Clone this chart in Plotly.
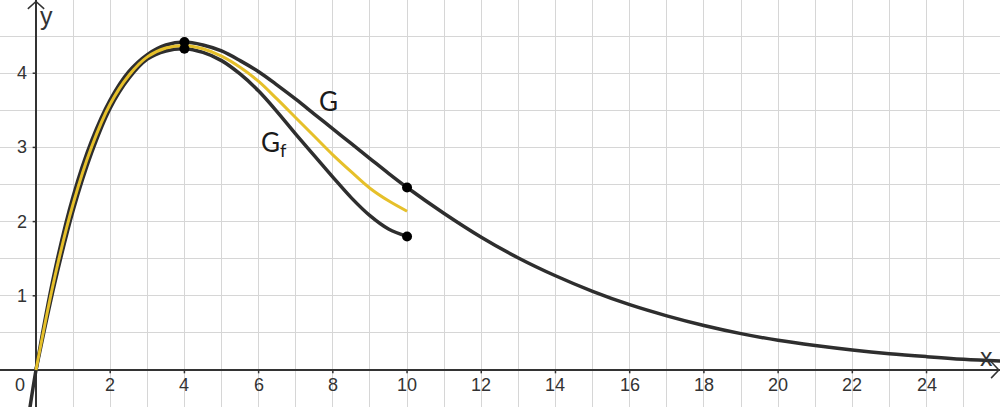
import plotly.graph_objects as go

# ---- data ----
g_x = [-0.2, 0, 0.5, 1, 1.5, 2, 2.5, 3, 3.5, 4, 4.5, 5, 5.5, 6, 6.5, 7, 7.5, 8, 8.5, 9, 9.5, 10,
       11, 12, 13, 14, 15, 16, 17, 18, 19, 20, 21, 22, 23, 24, 25, 26]
g_y = [-0.63, 0, 1.32, 2.34, 3.09, 3.64, 4.02, 4.25, 4.38, 4.42, 4.38, 4.30, 4.17, 4.02, 3.84,
       3.65, 3.45, 3.25, 3.05, 2.85, 2.65, 2.46,
       2.11, 1.79, 1.51, 1.27, 1.06, 0.88, 0.73, 0.60, 0.49, 0.40, 0.33, 0.27, 0.22,
       0.18, 0.145, 0.12]

gf_x = [0, 0.5, 1, 1.5, 2, 2.5, 3, 3.5, 4, 4.5, 5, 5.5, 6, 6.5, 7, 7.5, 8, 8.5, 9, 9.5, 10]
gf_y = [0, 1.16, 2.15, 2.93, 3.53, 3.93, 4.19, 4.30, 4.33, 4.28, 4.17, 3.99, 3.76, 3.48,
        3.18, 2.89, 2.60, 2.32, 2.08, 1.90, 1.80]

mid_x = [0, 0.5, 1, 1.5, 2, 2.5, 3, 3.5, 4, 4.5, 5, 5.5, 6, 6.5, 7, 7.5, 8, 8.5, 9, 9.5, 10]
mid_y = [0, 1.24, 2.24, 3.01, 3.585, 3.97, 4.22, 4.34, 4.375, 4.33, 4.23, 4.08, 3.89, 3.65,
         3.40, 3.15, 2.90, 2.67, 2.45, 2.28, 2.14]

pts_x = [4, 4, 10, 10]
pts_y = [4.42, 4.33, 2.46, 1.80]

x_ticks = [2, 4, 6, 8, 10, 12, 14, 16, 18, 20, 22, 24]
y_ticks = [1, 2, 3, 4]

X_RANGE = [-0.970, 25.98]
Y_RANGE = [-0.499, 4.987]

BLACK = "#2e2e2e"
YELLOW = "#e6c02a"
TXT = "#333333"
TICK_FONT = dict(family="Liberation Sans, Arial, sans-serif", size=18, color=TXT)
LABEL_FONT = dict(family="Lato, Open Sans, sans-serif", size=26, color="#1a1a1a")

fig = go.Figure()
fig.add_trace(go.Scatter(x=g_x, y=g_y, mode="lines", line=dict(color=BLACK, width=3.5, shape="spline"),
                         hoverinfo="skip"))
fig.add_trace(go.Scatter(x=gf_x, y=gf_y, mode="lines", line=dict(color=BLACK, width=3.5, shape="spline"),
                         hoverinfo="skip"))
fig.add_trace(go.Scatter(x=mid_x, y=mid_y, mode="lines", line=dict(color=YELLOW, width=3, shape="spline"),
                         hoverinfo="skip"))
fig.add_trace(go.Scatter(x=pts_x, y=pts_y, mode="markers", marker=dict(color="black", size=10),
                         hoverinfo="skip"))

annotations = []
for t in x_ticks:
    annotations.append(dict(x=t, y=0, text=str(t), showarrow=False, yshift=-15,
                            xanchor="center", yanchor="middle", font=TICK_FONT))
annotations.append(dict(x=0, y=0, text="0", showarrow=False, xshift=-16, yshift=-15,
                        xanchor="center", yanchor="middle", font=TICK_FONT))
for t in y_ticks:
    annotations.append(dict(x=0, y=t, text=str(t), showarrow=False, xshift=-14,
                            xanchor="center", yanchor="middle", font=TICK_FONT))
annotations.append(dict(x=0, y=Y_RANGE[1], text="y", showarrow=False, xshift=11, yshift=-16,
                        xanchor="center", yanchor="middle",
                        font=dict(family="Liberation Sans, Arial, sans-serif", size=25, color=TXT)))
annotations.append(dict(x=X_RANGE[1], y=0, text="x", showarrow=False, xshift=-14, yshift=13,
                        xanchor="center", yanchor="middle",
                        font=dict(family="Liberation Sans, Arial, sans-serif", size=25, color=TXT)))
annotations.append(dict(x=7.87, y=3.63, text="G", showarrow=False, xanchor="center",
                        yanchor="middle", font=LABEL_FONT))
annotations.append(dict(x=6.42, y=3.05, text="G<sub>f</sub>", showarrow=False, xanchor="center",
                        yanchor="middle", font=LABEL_FONT))

shapes = []
for t in x_ticks:
    shapes.append(dict(type="line", xref="x", yref="y", x0=t, x1=t, y0=0, y1=-0.045,
                       line=dict(color=TXT, width=1.5)))
for t in y_ticks:
    shapes.append(dict(type="line", xref="x", yref="y", x0=0, x1=-0.09, y0=t, y1=t,
                       line=dict(color=TXT, width=1.5)))
# axis arrow heads (chevrons)
shapes.append(dict(type="path", xref="x", yref="y",
                   path=f"M -0.22 {Y_RANGE[1]-0.12} L 0 {Y_RANGE[1]-0.02} L 0.22 {Y_RANGE[1]-0.12}",
                   line=dict(color=TXT, width=1.5)))
shapes.append(dict(type="path", xref="x", yref="y",
                   path=f"M {X_RANGE[1]-0.24} 0.11 L {X_RANGE[1]-0.03} 0 L {X_RANGE[1]-0.24} -0.11",
                   line=dict(color=TXT, width=1.5)))

fig.update_layout(
    width=1000, height=407, autosize=False,
    margin=dict(l=0, r=0, t=0, b=0),
    plot_bgcolor="white", paper_bgcolor="white",
    showlegend=False,
    annotations=annotations, shapes=shapes,
    xaxis=dict(range=X_RANGE, dtick=1, tick0=0, showgrid=True, gridcolor="#d6d6d6", gridwidth=1,
               zeroline=True, zerolinecolor=TXT, zerolinewidth=1.8, showticklabels=False,
               ticks="", fixedrange=True),
    yaxis=dict(range=Y_RANGE, dtick=0.5, tick0=0, showgrid=True, gridcolor="#d6d6d6", gridwidth=1,
               zeroline=True, zerolinecolor=TXT, zerolinewidth=1.8, showticklabels=False,
               ticks="", fixedrange=True),
)

fig.write_html("out.html", config={"displayModeBar": False, "staticPlot": True},
               post_script="document.body.style.margin='0';document.body.style.overflow='hidden';")
